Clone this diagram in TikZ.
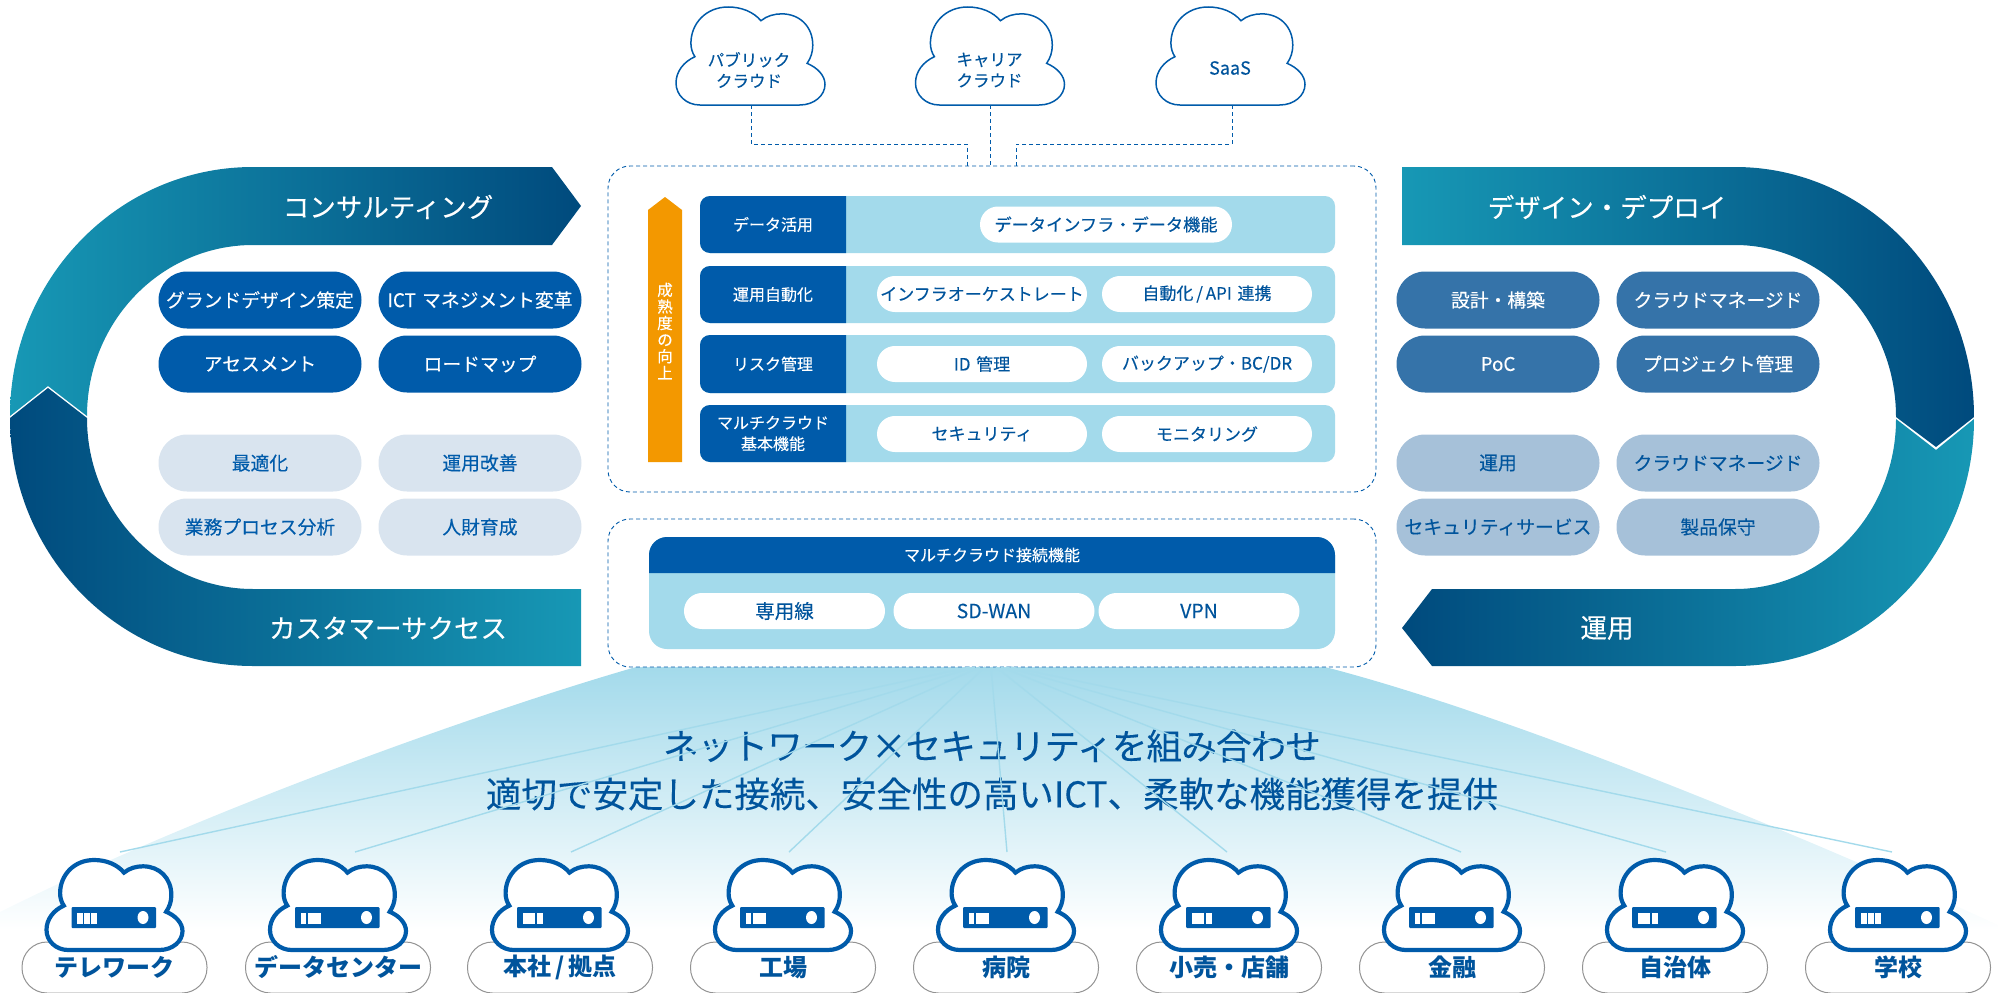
\documentclass[tikz,border=0pt]{standalone}
\usepackage{fontspec}
\setmainfont{Noto Sans CJK JP}[UprightFeatures={FakeBold=0.2}]
\usetikzlibrary{calc}
\definecolor{navy}{HTML}{004A7D}
\definecolor{teal}{HTML}{1798B5}
\definecolor{mainblue}{HTML}{005BAA}
\definecolor{textblue}{HTML}{00549C}
\definecolor{paleblue}{HTML}{D9E4EF}
\definecolor{midblue}{HTML}{3573A9}
\definecolor{softblue}{HTML}{A6C1D9}
\definecolor{sky}{HTML}{A3DAEB}
\definecolor{amber}{HTML}{F39800}
\tikzset{
  pill/.style={draw=none,inner sep=0pt,minimum width=#1,rounded corners=17.9pt,minimum height=36pt,align=center,font=\fontsize{17}{20}\selectfont,fill=white,text=textblue},
  lowpill/.style={pill=201pt,font=\fontsize{19.5}{22}\selectfont},
  sidepill/.style={inner sep=0pt,minimum width=203pt,minimum height=57pt,rounded corners=28.4pt,align=center,font=\fontsize{18.8}{22}\selectfont},
  dark/.style={fill=mainblue,text=white},
  pale/.style={fill=paleblue,text=mainblue},
  mid/.style={fill=midblue,text=white},
  soft/.style={fill=softblue,text=textblue},
  ribbontext/.style={text=white,inner sep=0pt,font=\fontsize{26.5}{30}\selectfont},
  rowlabel/.style={text=white,inner sep=0pt,align=center,font=\fontsize{16}{21}\selectfont},
  rowback/.style={fill=sky,rounded corners=10pt},
  dashbox/.style={draw=mainblue,line width=.9pt,dash pattern=on 4pt off 3pt,fill=white,rounded corners=22pt,inner sep=0pt},
  dashline/.style={draw=mainblue,line width=1pt,dash pattern=on 4pt off 3pt},
  cloudtext/.style={text=textblue,inner sep=0pt,align=center,font=\fontsize{16.5}{21}\selectfont},
  bottomlabel/.style={draw=gray!85,line width=1pt,fill=white,minimum width=185pt,minimum height=51pt,rounded corners=25pt,inner sep=0pt,text=textblue,font=\bfseries\fontsize{24}{26}\selectfont},
  fanline/.style={draw=sky,line width=1.4pt},
}
\newcommand{\cloudshape}{(.16,1) -- (.83,1) .. controls (.93,1) and (1,.9) .. (1,.79) .. controls (1,.7) and (.95,.62) .. (.88,.575) .. controls (.905,.52) and (.918,.46) .. (.918,.39) .. controls (.918,.2) and (.83,.07) .. (.71,.07) .. controls (.66,.07) and (.61,.09) .. (.57,.14) .. controls (.52,.05) and (.44,0) .. (.35,0) .. controls (.2,0) and (.10,.17) .. (.10,.37) .. controls (.10,.42) and (.11,.47) .. (.127,.507) .. controls (.05,.56) and (0,.66) .. (0,.777) .. controls (0,.9) and (.07,1) .. (.16,1) -- cycle}
\newcommand{\threeslots}{-37.5/-31.5,-30.5/-24.5,-23.5/-17.5}
\newcommand{\narrowwide}{-37.5/-32,-30/-17.5}
\newcommand{\widenarrow}{-37.5/-25,-23/-17.5}
\newcommand{\sitecloud}[2]{%
  \begin{scope}[shift={(#1-68,860)},xscale=136,yscale=90]
    \draw[draw=mainblue,fill=white,line width=4.2pt] \cloudshape;
  \end{scope}
  \begin{scope}[shift={(#1,0)}]
    \fill[mainblue,rounded corners=1pt] (-43,907) rectangle (41.5,928);
    \foreach \a/\b in #2 {\fill[white] (\a,912.5) rectangle (\b,924);}
    \fill[white] (28.5,917.5) ellipse [x radius=5.5,y radius=6.5];
  \end{scope}}
\begin{document}
\begin{tikzpicture}[x=1pt,y=-1pt]
\useasboundingbox (0,0) rectangle (1998,993);
% fan
\begin{scope}
  \clip (0,912) .. controls (200,812) and (480,712) .. (636,667) -- (1325,667) .. controls (1500,712) and (1780,825) .. (1998,925) -- (1998,935) -- (0,935) -- cycle;
  \shade[top color=sky,bottom color=white] (0,667) rectangle (1998,930);
\end{scope}
% ribbons
\begin{scope}
  \clip (552,167) -- (581,206) -- (552,245) -- (253,245) arc[start angle=270,end angle=180,x radius=166,y radius=171] -- (87,416) -- (48,386) -- (10,416) arc[start angle=180,end angle=270,x radius=243,y radius=249] -- cycle;
  \shade[left color=teal,right color=navy] (10,160) rectangle (581,420);
\end{scope}
\begin{scope}
  \clip (10,418) -- (48,388) -- (87,418) arc[start angle=180,end angle=90,x radius=166,y radius=171] -- (581,589) -- (581,666) -- (253,666) arc[start angle=90,end angle=180,x radius=243,y radius=248] -- cycle;
  \shade[left color=navy,right color=teal] (10,380) rectangle (581,670);
\end{scope}
\begin{scope}
  \clip (1402,167) -- (1735,167) arc[start angle=270,end angle=360,x radius=239,y radius=250] -- (1936,447) -- (1896,417) arc[start angle=0,end angle=-90,x radius=161,y radius=172] -- (1402,245) -- cycle;
  \shade[left color=teal,right color=navy] (1402,160) rectangle (1974,450);
\end{scope}
\begin{scope}
  \clip (1402,628) -- (1432,589) -- (1735,589) arc[start angle=90,end angle=0,x radius=161,y radius=170] -- (1936,450) -- (1974,419) arc[start angle=0,end angle=90,x radius=239,y radius=247] -- (1432,666) -- cycle;
  \shade[left color=navy,right color=teal] (1402,415) rectangle (1974,670);
\end{scope}
\node[ribbontext] (consult) at (388,207) {コンサルティング};
\node[ribbontext] (success) at (388,628) {カスタマーサクセス};
\node[ribbontext] (design) at (1607,207) {デザイン・デプロイ};
\node[ribbontext] (ops) at (1607,628) {運用};
% side pills
\node[sidepill,dark] (a1) at (260,300) {グランドデザイン策定};
\node[sidepill,dark] (a2) at (480,300) {ICT\,\,マネジメント変革};
\node[sidepill,dark] (a3) at (260,364) {アセスメント};
\node[sidepill,dark] (a4) at (480,364) {ロードマップ};
\node[sidepill,pale] (b1) at (260,463) {最適化};
\node[sidepill,pale] (b2) at (480,463) {運用改善};
\node[sidepill,pale] (b3) at (260,527) {業務プロセス分析};
\node[sidepill,pale] (b4) at (480,527) {人財育成};
\node[sidepill,mid] (c1) at (1498,300) {設計・構築};
\node[sidepill,mid] (c2) at (1718,300) {クラウドマネージド};
\node[sidepill,mid] (c3) at (1498,364) {PoC};
\node[sidepill,mid] (c4) at (1718,364) {プロジェクト管理};
\node[sidepill,soft] (d1) at (1498,463) {運用};
\node[sidepill,soft] (d2) at (1718,463) {クラウドマネージド};
\node[sidepill,soft] (d3) at (1498,527) {セキュリティサービス};
\node[sidepill,soft] (d4) at (1718,527) {製品保守};
% dashed boxes
\node[dashbox,minimum width=768pt,minimum height=326pt] (upper) at (992,329) {};
\node[dashbox,minimum width=768pt,minimum height=148pt] (lower) at (992,593) {};
% top clouds
\foreach \cx in {676,915.5,1156} {
  \begin{scope}[shift={(\cx,7)},xscale=149,yscale=98]
    \draw[draw=mainblue,fill=white,line width=1.5pt] \cloudshape;
  \end{scope}}
\node[cloudtext] (public) at (749,70) {パブリック\\クラウド};
\node[cloudtext] (carrier) at (989.5,70) {キャリア\\クラウド};
\node[cloudtext,font=\fontsize{18}{21}\selectfont] (saas) at (1230,68) {SaaS};
\coordinate (pubfoot) at (751,105);
\coordinate (carfoot) at (990.5,105);
\coordinate (saasfoot) at (1232,105);
\coordinate (pubbend) at (751,144);
\coordinate (pubturn) at (967.5,144);
\coordinate (saasbend) at (1232,144);
\coordinate (saasturn) at (1016,144);
\coordinate (pubin) at (967.5,166);
\coordinate (carin) at (990.5,166);
\coordinate (saasin) at (1016,166);
\draw[dashline] (pubfoot) -- (pubbend) -- (pubturn) -- (pubin);
\draw[dashline] (carfoot) -- (carin);
\draw[dashline] (saasfoot) -- (saasbend) -- (saasturn) -- (saasin);
% orange arrow
\fill[amber] (648,462) -- (648,210) -- (665,197) -- (682,210) -- (682,462) -- cycle;
\node[inner sep=0pt,text=white,align=center,font=\fontsize{15.5}{16.6}\selectfont] (mature) at (665,331) {成\\熟\\度\\の\\向\\上};
% rows
\foreach \t/\b in {196/253,266/323,335/393,405/462} {
  \fill[rowback] (700,\t) rectangle (1335,\b);
  \fill[mainblue] (846,\t) -- (846,\b) [rounded corners=10pt] -- (700,\b) -- (700,\t) [sharp corners] -- cycle;
}
\node[rowlabel] (r1) at (773,224.5) {データ活用};
\node[rowlabel] (r2) at (773,294.5) {運用自動化};
\node[rowlabel] (r3) at (773,364) {リスク管理};
\node[rowlabel] (r4) at (773,433.5) {マルチクラウド\\基本機能};
\node[pill=252pt,font=\fontsize{17.2}{20}\selectfont] (p1) at (1106,224.5) {データインフラ・データ機能};
\node[pill=210pt] (p2) at (982,294) {インフラオーケストレート};
\node[pill=210pt] (p3) at (1207,294) {自動化\,/\,API\,\,連携};
\node[pill=210pt] (p4) at (982,364) {ID\,\,管理};
\node[pill=210pt] (p5) at (1207,364) {バックアップ・BC/DR};
\node[pill=210pt] (p6) at (982,434) {セキュリティ};
\node[pill=210pt] (p7) at (1207,434) {モニタリング};
% lower box
\fill[rowback,rounded corners=18pt] (649,537) rectangle (1335,649);
\fill[mainblue] (649,573) [rounded corners=18pt] -- (649,537) -- (1335,537) [sharp corners] -- (1335,573) -- cycle;
\node[rowlabel,font=\fontsize{16}{18}\selectfont] (connect) at (992,555) {マルチクラウド接続機能};
\node[lowpill] (l1) at (784.5,611) {専用線};
\node[lowpill] (l2) at (994,611) {SD-WAN};
\node[lowpill] (l3) at (1199,611) {VPN};
% headline
\node[inner sep=0pt,text=textblue,align=center,font=\fontsize{35.5}{48}\selectfont] (headline) at (992,770) {{\addfontfeature{LetterSpace=-2.2}ネットワーク\hspace{-1pt}×\hspace{-1pt}セキュリティを組み合わせ}\\適切で安定した接続、安全性の高いICT、柔軟な機能獲得を提供};
% fan lines
\coordinate (hub1) at (970,667);\coordinate (hub2) at (975,667);\coordinate (hub3) at (980,667);
\coordinate (hub4) at (985,667);\coordinate (hub5) at (991,667);\coordinate (hub6) at (996,667);
\coordinate (hub7) at (1001,667);\coordinate (hub8) at (1006,667);\coordinate (hub9) at (1011,667);
\coordinate (site1) at (120,852);\coordinate (site2) at (355,852);\coordinate (site3) at (571,852);
\coordinate (site4) at (789,852);\coordinate (site5) at (1007,852);\coordinate (site6) at (1227,852);
\coordinate (site7) at (1461,852);\coordinate (site8) at (1666,852);\coordinate (site9) at (1892,852);
\foreach \i in {1,...,9} \draw[fanline] (hub\i) -- (site\i);
% bottom
\foreach \n/\cx/\lab in {1/114.5/テレワーク,2/338/データセンター,3/560/{本社\,/\,拠点},4/783/工場,5/1006/病院,6/1229/小売・店舗,7/1452/金融,8/1675/自治体,9/1898/学校} {
  \node[bottomlabel] (lab\n) at (\cx,967.5) {\raisebox{-3pt}{\lab}};
}
\sitecloud{114.5}{\threeslots}
\sitecloud{338}{\narrowwide}
\sitecloud{560}{\widenarrow}
\sitecloud{783}{\narrowwide}
\sitecloud{1006}{\narrowwide}
\sitecloud{1229}{\widenarrow}
\sitecloud{1452}{\narrowwide}
\sitecloud{1675}{\widenarrow}
\sitecloud{1898}{\threeslots}
\end{tikzpicture}
\end{document}
